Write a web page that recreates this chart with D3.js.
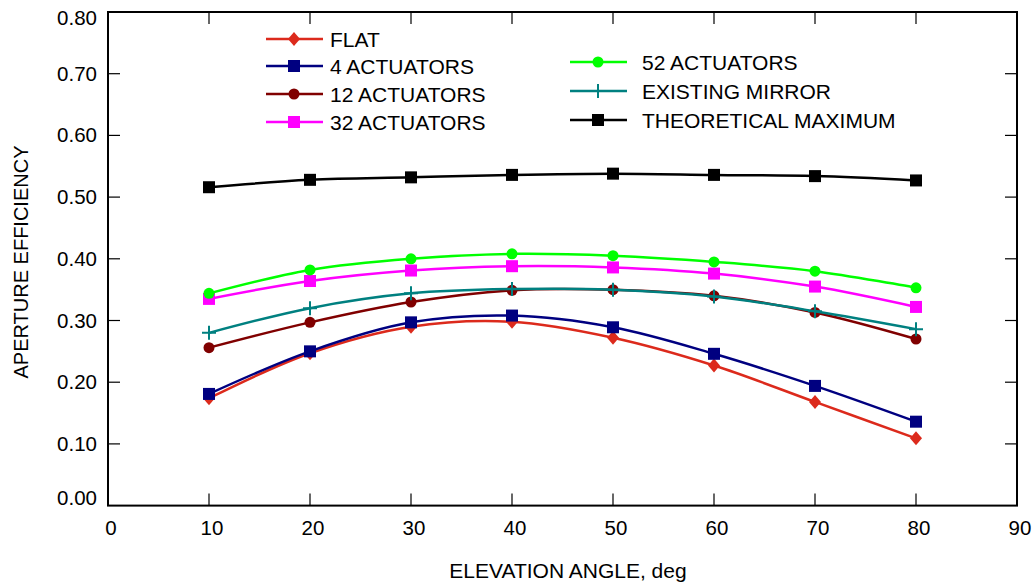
<!DOCTYPE html>
<html>
<head>
<meta charset="utf-8">
<script src="https://cdn.jsdelivr.net/npm/d3@7"></script>
<style>
  body { margin: 0; background: #fff; }
  text { font-family: "Liberation Sans", Arial, sans-serif; fill: #000; }
</style>
</head>
<body>
<svg id="chart" width="1032" height="588"></svg>
<script>
const angles = [10, 20, 30, 40, 50, 60, 70, 80];
const flat = [0.174, 0.247, 0.290, 0.298, 0.272, 0.227, 0.168, 0.109];
const act4 = [0.181, 0.250, 0.297, 0.308, 0.289, 0.246, 0.194, 0.136];
const act12 = [0.256, 0.297, 0.330, 0.349, 0.350, 0.340, 0.313, 0.270];
const act32 = [0.335, 0.364, 0.381, 0.388, 0.386, 0.376, 0.355, 0.322];
const act52 = [0.344, 0.382, 0.400, 0.408, 0.405, 0.395, 0.380, 0.353];
const existing = [0.280, 0.320, 0.344, 0.351, 0.350, 0.339, 0.315, 0.286];
const theoMax = [0.516, 0.528, 0.532, 0.536, 0.538, 0.536, 0.534, 0.527];

const xTicks = [0, 10, 20, 30, 40, 50, 60, 70, 80, 90];
const yTicks = [0, 0.1, 0.2, 0.3, 0.4, 0.5, 0.6, 0.7, 0.8];

const series = [
  {name: 'FLAT', values: flat, color: '#dc2a1c', marker: 'diamond'},
  {name: '4 ACTUATORS', values: act4, color: '#000080', marker: 'square'},
  {name: '12 ACTUATORS', values: act12, color: '#800000', marker: 'circle'},
  {name: '32 ACTUATORS', values: act32, color: '#ff00ff', marker: 'square'},
  {name: '52 ACTUATORS', values: act52, color: '#00ff00', marker: 'circle'},
  {name: 'EXISTING MIRROR', values: existing, color: '#008080', marker: 'plus'},
  {name: 'THEORETICAL MAXIMUM', values: theoMax, color: '#000000', marker: 'square'}
];

const plotLeft = 108, plotRight = 1017, plotTop = 12, plotBottom = 505.6;
const x = d3.scaleLinear().domain([0, 90]).range([plotLeft, plotRight]);
const y = d3.scaleLinear().domain([0, 0.8]).range([plotBottom, plotTop]);

const svg = d3.select('#chart');

// frame
svg.append('rect')
  .attr('x', plotLeft).attr('y', plotTop)
  .attr('width', plotRight - plotLeft).attr('height', plotBottom - plotTop)
  .attr('fill', 'none').attr('stroke', '#000').attr('stroke-width', 2);

// ticks, inward on all four sides
const tickLen = 12;
const tg = svg.append('g').attr('stroke', '#000').attr('stroke-width', 1.2);
xTicks.slice(1, -1).forEach(t => {
  tg.append('line').attr('x1', x(t)).attr('x2', x(t)).attr('y1', plotBottom).attr('y2', plotBottom - tickLen);
  tg.append('line').attr('x1', x(t)).attr('x2', x(t)).attr('y1', plotTop).attr('y2', plotTop + tickLen);
});
yTicks.slice(1, -1).forEach(t => {
  tg.append('line').attr('x1', plotLeft).attr('x2', plotLeft + tickLen).attr('y1', y(t)).attr('y2', y(t));
  tg.append('line').attr('x1', plotRight).attr('x2', plotRight - tickLen).attr('y1', y(t)).attr('y2', y(t));
});

// tick labels
svg.append('g').selectAll('text')
  .data(xTicks).enter().append('text')
  .attr('x', d => x(d) + 3).attr('y', 535)
  .attr('text-anchor', 'middle')
  .attr('font-size', 20.5)
  .text(d => d);

// end labels are kept inside the frame's height
svg.append('g').selectAll('text')
  .data(yTicks).enter().append('text')
  .attr('x', 97)
  .attr('y', d => Math.max(plotTop + 13, Math.min(plotBottom - 1, y(d) + 7)))
  .attr('text-anchor', 'end')
  .attr('font-size', 20.5)
  .text(d => d3.format('.2f')(d));

// axis titles
svg.append('text')
  .attr('x', 568).attr('y', 578)
  .attr('text-anchor', 'middle').attr('font-size', 21)
  .text('ELEVATION ANGLE, deg');

svg.append('text')
  .attr('transform', 'translate(28,262) rotate(-90)')
  .attr('text-anchor', 'middle').attr('font-size', 20)
  .text('APERTURE EFFICIENCY');

// markers
function drawMarker(g, type, color, cx, cy) {
  if (type === 'square') {
    g.append('rect').attr('x', cx - 6).attr('y', cy - 6).attr('width', 12).attr('height', 12).attr('fill', color);
  } else if (type === 'circle') {
    g.append('circle').attr('cx', cx).attr('cy', cy).attr('r', 5.5).attr('fill', color);
  } else if (type === 'diamond') {
    g.append('path').attr('d', `M${cx},${cy - 7}L${cx + 6},${cy}L${cx},${cy + 7}L${cx - 6},${cy}Z`).attr('fill', color);
  } else if (type === 'plus') {
    g.append('path').attr('d', `M${cx - 7},${cy}H${cx + 7}M${cx},${cy - 7}V${cy + 7}`)
      .attr('stroke', color).attr('stroke-width', 2).attr('fill', 'none');
  }
}

const line = d3.line()
  .curve(d3.curveCatmullRom.alpha(0.5))
  .x(d => x(d[0]))
  .y(d => y(d[1]));

const plot = svg.append('g');
series.forEach(s => {
  const pts = angles.map((a, i) => [a, s.values[i]]);
  const g = plot.append('g');
  g.append('path')
    .attr('d', line(pts))
    .attr('fill', 'none')
    .attr('stroke', s.color)
    .attr('stroke-width', 2.5);
  pts.forEach(p => drawMarker(g, s.marker, s.color, x(p[0]), y(p[1])));
});

// legend: [line start x, row y, text x]
const legendPos = [
  [266, 39, 330], [266, 66, 330], [266, 94, 330], [266, 122, 330],
  [570, 62, 642], [570, 91, 642], [570, 120, 642]
];
const lg = svg.append('g');
series.forEach((s, i) => {
  const [lx, ly, tx] = legendPos[i];
  lg.append('line').attr('x1', lx).attr('x2', lx + 57).attr('y1', ly).attr('y2', ly)
    .attr('stroke', s.color).attr('stroke-width', 2.5);
  drawMarker(lg, s.marker, s.color, lx + 28, ly);
  lg.append('text').attr('x', tx).attr('y', ly + 7.5)
    .attr('font-size', 21).text(s.name);
});
</script>
</body>
</html>
